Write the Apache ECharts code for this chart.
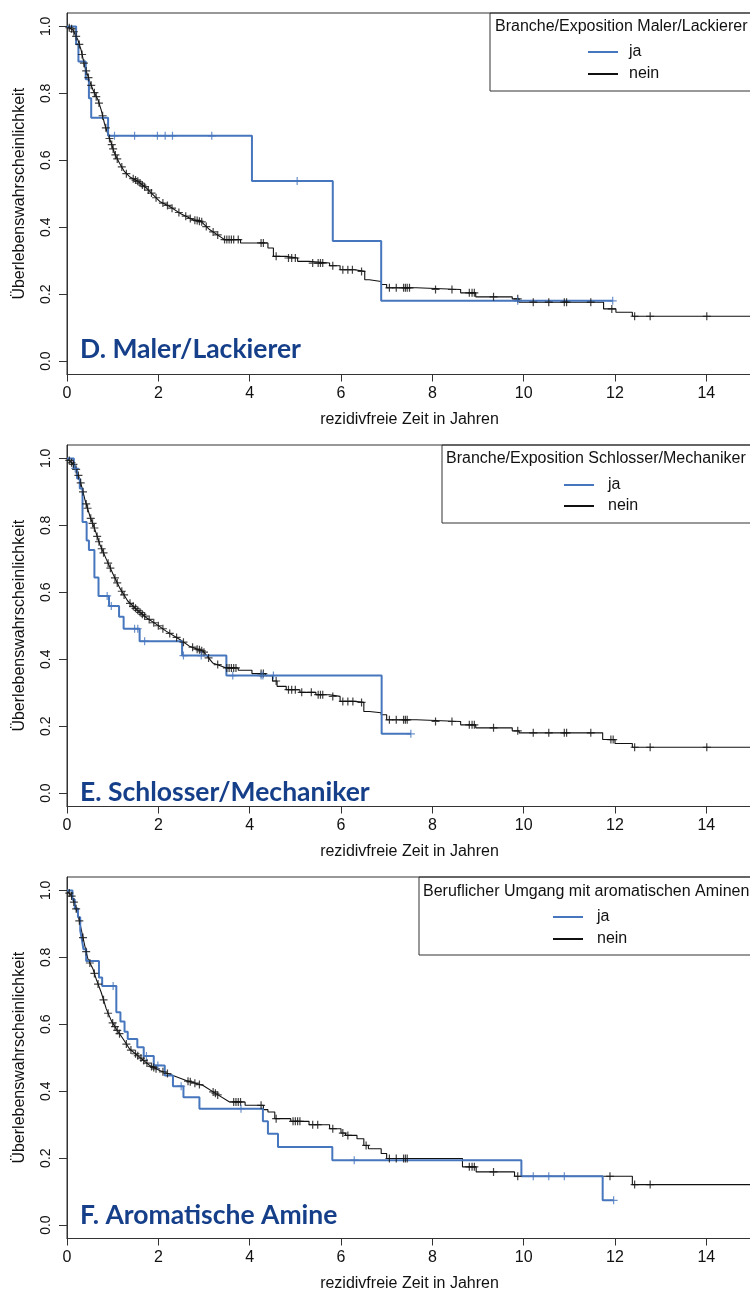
<!DOCTYPE html>
<html><head><meta charset="utf-8">
<script src="https://cdn.jsdelivr.net/npm/echarts@6/dist/echarts.min.js"></script>
<style>html,body{margin:0;padding:0;background:#fff}#c{width:750px;height:1290px}</style>
</head><body><div id="c"></div>
<script>
// ---------- text & ticks ----------
const xTicks = [0, 2, 4, 6, 8, 10, 12, 14];
const yTicks = [0, 0.2, 0.4, 0.6, 0.8, 1.0];
const groupNames = ['ja', 'nein'];
const panelTitles = ['D. Maler/Lackierer', 'E. Schlosser/Mechaniker', 'F. Aromatische Amine'];
const legendTitles = ['Branche/Exposition Maler/Lackierer', 'Branche/Exposition Schlosser/Mechaniker', 'Beruflicher Umgang mit aromatischen Aminen'];
const xName = 'rezidivfreie Zeit in Jahren';
const yName = 'Überlebenswahrscheinlichkeit';

// ---------- Panel D ----------
const jaStart = [[0, 1]];
const jaD_steps = [[0.2,0.947],[0.25,0.895],[0.41,0.842],[0.48,0.785],[0.53,0.727],[0.9,0.673],[4.05,0.538],[5.82,0.359],[6.88,0.18]];
const jaD_end = 11.95;
const jaD_cens = [[1.04,0.673],[1.48,0.673],[1.98,0.673],[2.15,0.673],[2.31,0.673],[3.17,0.673],[5.04,0.538],[9.87,0.18],[11.95,0.18]];
const neinD_smooth = [[0,1],[0.13,0.989],[0.24,0.959],[0.31,0.929],[0.39,0.879],[0.5,0.835],[0.57,0.81],[0.68,0.78],[0.75,0.75],[0.82,0.71],[0.9,0.676],[0.97,0.651],[1.04,0.621],[1.15,0.591],[1.26,0.566],[1.37,0.551],[1.55,0.537],[1.74,0.517],[1.92,0.492],[2.03,0.477],[2.25,0.462],[2.47,0.442],[2.76,0.422],[2.94,0.417],[3.12,0.393],[3.45,0.363]];
const neinD_steps = [[3.8,0.353],[4.4,0.338],[4.52,0.313],[4.8,0.308],[5.05,0.298],[5.3,0.293],[5.75,0.285],[5.98,0.273],[6.3,0.268],[6.52,0.243],[6.62,0.238],[6.88,0.229],[7.0,0.219],[7.65,0.214],[8.62,0.204],[8.95,0.192],[9.75,0.186],[9.9,0.176],[11.75,0.156],[12.02,0.146],[12.38,0.134]];
const neinD_end = 15;
const neinD_cens = [[0.05,0.996],[0.1,0.993],[0.15,0.984],[0.2,0.97],[0.27,0.946],[0.33,0.916],[0.37,0.89],[0.42,0.867],[0.47,0.847],[0.53,0.824],[0.6,0.802],[0.64,0.79],[0.7,0.771],[0.78,0.733],[0.85,0.697],[0.93,0.665],[0.98,0.647],[1.01,0.634],[1.06,0.616],[1.1,0.604],[1.2,0.58],[1.3,0.56],[1.45,0.545],[1.5,0.541],[1.55,0.537],[1.6,0.532],[1.65,0.526],[1.7,0.521],[1.78,0.511],[1.85,0.502],[1.95,0.488],[2.1,0.472],[2.2,0.465],[2.3,0.457],[2.45,0.444],[2.6,0.433],[2.7,0.426],[2.8,0.421],[2.85,0.42],[2.9,0.418],[2.95,0.416],[3.05,0.402],[3.2,0.386],[3.3,0.377],[3.45,0.363],[3.5,0.363],[3.55,0.363],[3.6,0.363],[3.65,0.363],[3.75,0.363],[4.25,0.353],[4.3,0.353],[4.58,0.313],[4.85,0.308],[4.92,0.308],[5.0,0.308],[5.38,0.293],[5.5,0.293],[5.55,0.293],[5.6,0.293],[5.82,0.285],[6.04,0.273],[6.15,0.273],[6.25,0.273],[6.45,0.268],[7.06,0.219],[7.21,0.219],[7.37,0.219],[7.41,0.219],[7.45,0.219],[7.5,0.219],[8.07,0.214],[8.43,0.214],[8.81,0.204],[8.87,0.204],[8.92,0.204],[9.34,0.192],[9.87,0.186],[10.21,0.176],[10.55,0.176],[10.89,0.176],[10.94,0.176],[11.47,0.176],[11.93,0.156],[12.43,0.134],[12.77,0.134],[14.01,0.134]];

// ---------- Panel E ----------
const jaE_steps = [[0.15,0.97],[0.22,0.94],[0.28,0.91],[0.34,0.81],[0.43,0.755],[0.48,0.726],[0.6,0.644],[0.69,0.589],[0.92,0.559],[1.14,0.527],[1.24,0.491],[1.59,0.454],[2.52,0.411],[3.49,0.351],[6.89,0.177]];
const jaE_end = 7.53;
const jaE_cens = [[0.18,0.97],[0.88,0.589],[0.97,0.559],[1.48,0.491],[1.55,0.491],[1.7,0.454],[2.55,0.411],[2.94,0.411],[3.63,0.351],[4.25,0.351],[4.29,0.351],[4.52,0.351],[7.53,0.177]];
const neinE_smooth = [[0,1],[0.17,0.978],[0.28,0.938],[0.39,0.878],[0.5,0.828],[0.61,0.788],[0.72,0.743],[0.86,0.699],[1.01,0.654],[1.15,0.614],[1.33,0.574],[1.52,0.549],[1.74,0.524],[1.96,0.504],[2.17,0.484],[2.47,0.459],[2.68,0.439],[2.98,0.424],[3.19,0.389],[3.49,0.374]];
const neinE_steps = [[3.75,0.367],[4.05,0.357],[4.35,0.351],[4.5,0.335],[4.6,0.319],[4.8,0.309],[5.1,0.301],[5.45,0.294],[5.75,0.289],[5.98,0.274],[6.3,0.271],[6.5,0.244],[6.62,0.24],[6.88,0.234],[7.0,0.219],[7.65,0.214],[8.62,0.204],[8.95,0.195],[9.75,0.186],[9.9,0.18],[11.73,0.16],[12.0,0.148],[12.38,0.137]];
const neinE_end = 15;
const neinE_cens = [[0.05,0.994],[0.1,0.987],[0.14,0.982],[0.2,0.967],[0.25,0.949],[0.3,0.927],[0.35,0.9],[0.42,0.864],[0.45,0.851],[0.52,0.821],[0.56,0.806],[0.6,0.792],[0.66,0.767],[0.7,0.751],[0.76,0.73],[0.8,0.718],[0.9,0.687],[0.95,0.672],[1.05,0.643],[1.1,0.628],[1.2,0.603],[1.25,0.592],[1.38,0.567],[1.45,0.558],[1.5,0.552],[1.55,0.546],[1.6,0.54],[1.65,0.534],[1.7,0.529],[1.8,0.519],[1.9,0.509],[2.0,0.5],[2.1,0.491],[2.25,0.477],[2.4,0.465],[2.55,0.451],[2.75,0.436],[2.85,0.43],[2.9,0.428],[2.95,0.425],[3.0,0.421],[3.1,0.404],[3.3,0.384],[3.5,0.374],[3.55,0.374],[3.6,0.374],[3.65,0.374],[3.7,0.374],[4.25,0.357],[4.3,0.357],[4.58,0.335],[4.85,0.309],[4.92,0.309],[5.0,0.309],[5.14,0.301],[5.35,0.301],[5.5,0.294],[5.55,0.294],[5.6,0.294],[5.82,0.289],[6.04,0.274],[6.15,0.274],[6.26,0.274],[6.45,0.271],[7.06,0.219],[7.21,0.219],[7.37,0.219],[7.41,0.219],[7.45,0.219],[8.07,0.214],[8.43,0.214],[8.81,0.204],[8.87,0.204],[8.92,0.204],[9.34,0.195],[9.87,0.186],[10.21,0.18],[10.55,0.18],[10.89,0.18],[10.94,0.18],[11.47,0.18],[11.91,0.16],[11.96,0.16],[12.43,0.137],[12.77,0.137],[14.01,0.137]];

// ---------- Panel F ----------
const jaF_steps = [[0.12,0.973],[0.17,0.946],[0.24,0.92],[0.29,0.88],[0.33,0.85],[0.36,0.824],[0.42,0.789],[0.7,0.74],[0.77,0.714],[1.08,0.636],[1.17,0.608],[1.26,0.578],[1.33,0.556],[1.54,0.531],[1.68,0.505],[1.9,0.477],[2.14,0.447],[2.32,0.415],[2.55,0.382],[2.9,0.348],[4.29,0.31],[4.4,0.273],[4.62,0.233],[5.81,0.194],[9.95,0.146],[11.73,0.074]];
const jaF_end = 11.97;
const jaF_cens = [[1.01,0.714],[1.74,0.505],[1.99,0.477],[2.5,0.415],[3.81,0.348],[6.29,0.194],[10.21,0.146],[10.55,0.146],[10.89,0.146],[11.97,0.074]];
const neinF_smooth = [[0,1],[0.1,0.983],[0.17,0.958],[0.24,0.928],[0.31,0.884],[0.39,0.834],[0.46,0.794],[0.57,0.765],[0.64,0.735],[0.75,0.695],[0.86,0.646],[0.97,0.611],[1.08,0.586],[1.23,0.556],[1.37,0.526],[1.59,0.502],[1.81,0.477],[2.03,0.462],[2.32,0.447],[2.61,0.432],[2.98,0.417],[3.27,0.392],[3.56,0.368]];
const neinF_steps = [[3.9,0.358],[4.3,0.345],[4.4,0.338],[4.55,0.318],[4.9,0.31],[5.3,0.3],[5.75,0.288],[6.0,0.275],[6.1,0.268],[6.35,0.258],[6.5,0.238],[6.6,0.228],[6.88,0.214],[7.0,0.199],[8.66,0.174],[8.96,0.159],[9.8,0.146],[12.38,0.121]];
const neinF_end = 15;
const neinF_cens = [[0.05,0.992],[0.1,0.983],[0.15,0.965],[0.2,0.945],[0.27,0.909],[0.35,0.859],[0.42,0.817],[0.5,0.783],[0.6,0.752],[0.68,0.72],[0.8,0.673],[0.9,0.633],[1.0,0.604],[1.05,0.593],[1.1,0.582],[1.15,0.572],[1.3,0.541],[1.4,0.523],[1.5,0.512],[1.55,0.506],[1.62,0.499],[1.68,0.492],[1.75,0.484],[1.85,0.474],[1.9,0.471],[1.95,0.467],[2.1,0.458],[2.2,0.453],[2.65,0.43],[2.7,0.428],[2.8,0.424],[2.9,0.42],[3.2,0.398],[3.25,0.394],[3.3,0.389],[3.65,0.368],[3.7,0.368],[3.75,0.368],[3.8,0.368],[4.25,0.358],[4.58,0.318],[4.95,0.31],[5.0,0.31],[5.05,0.31],[5.1,0.31],[5.38,0.3],[5.49,0.3],[5.82,0.288],[6.04,0.275],[6.15,0.268],[6.55,0.238],[7.06,0.199],[7.21,0.199],[7.37,0.199],[7.41,0.199],[7.45,0.199],[8.81,0.174],[8.87,0.174],[8.92,0.174],[9.34,0.159],[9.87,0.146],[11.89,0.146],[12.43,0.121],[12.77,0.121]];

// ---------- build ----------
function kmPath(start, steps, end) {
  const pts = start.map(p => [p[0], p[1]]);
  let s = pts[pts.length - 1][1];
  steps.forEach(([t, v]) => { pts.push([t, s]); pts.push([t, v]); s = v; });
  pts.push([end, s]);
  return pts;
}
const panels = [
  { ja: kmPath(jaStart, jaD_steps, jaD_end), nein: kmPath(neinD_smooth, neinD_steps, neinD_end), jaC: jaD_cens, neinC: neinD_cens },
  { ja: kmPath(jaStart, jaE_steps, jaE_end), nein: kmPath(neinE_smooth, neinE_steps, neinE_end), jaC: jaE_cens, neinC: neinE_cens },
  { ja: kmPath(jaStart, jaF_steps, jaF_end), nein: kmPath(neinF_smooth, neinF_steps, neinF_end), jaC: jaF_cens, neinC: neinF_cens }
];

const FONT = '"Liberation Sans", Arial, sans-serif';
const TFONT = 'Lato, "Open Sans", sans-serif';
const BLUE = '#4676BD';
const INK = '#111';
const FRAME = '#333';
const PLUS = 'path://M4,0L4,8M0,4L8,4';

const gridTops = [13, 445, 877];
const gridH = 361.5;
const legendBox = [[490, 13, 78], [442, 445, 78], [419, 877, 78]];
const legendTitlePos = [[495, 27], [446, 459], [423, 892]];
const legendPos = [[587, 44, 6, 6], [563, 477, 5, 9], [552, 909, 6, 9]];
const titleY = [349, 792, 1215];

const grid = [], xAxis = [], yAxis = [], series = [], legend = [], graphic = [];
panels.forEach((p, i) => {
  grid.push({ left: 67, top: gridTops[i], width: 685, height: gridH, show: true, borderColor: FRAME, borderWidth: 1, backgroundColor: 'transparent', outerBoundsMode: 'none' });
  xAxis.push({
    type: 'value', gridIndex: i, min: 0, max: 15, interval: 2, position: 'bottom',
    name: xName, nameLocation: 'middle', nameGap: 37,
    nameTextStyle: { fontFamily: FONT, fontSize: 16, color: INK },
    axisLine: { show: true, onZero: false, lineStyle: { color: FRAME, width: 1 } }, splitLine: { show: false },
    axisTick: { show: true, inside: false, length: 7, lineStyle: { color: FRAME, width: 1 } },
    axisLabel: { fontFamily: FONT, fontSize: 16, color: INK, margin: 11, showMaxLabel: false }
  });
  yAxis.push({
    type: 'value', gridIndex: i, min: -0.04, max: 1.04, position: 'left',
    name: yName, nameLocation: 'middle', nameGap: 39,
    nameTextStyle: { fontFamily: FONT, fontSize: 16, color: INK },
    axisLine: { show: true, onZero: false, lineStyle: { color: FRAME, width: 1 } }, splitLine: { show: false },
    axisTick: { show: true, inside: false, length: 8, lineStyle: { color: FRAME, width: 1 }, customValues: yTicks },
    axisLabel: { fontFamily: FONT, fontSize: 14, color: INK, rotate: 90, margin: 14, customValues: yTicks, formatter: v => v.toFixed(1) }
  });
  series.push({ type: 'line', name: groupNames[1], xAxisIndex: i, yAxisIndex: i, data: p.nein, symbol: 'none', showSymbol: false, lineStyle: { color: INK, width: 1.1 }, itemStyle: { color: INK }, z: 2, silent: true });
  series.push({ type: 'line', name: groupNames[0], xAxisIndex: i, yAxisIndex: i, data: p.ja, symbol: 'none', showSymbol: false, lineStyle: { color: BLUE, width: 2 }, itemStyle: { color: BLUE }, z: 3, silent: true });
  series.push({ type: 'scatter', name: 'nein zensiert ' + i, xAxisIndex: i, yAxisIndex: i, data: p.neinC, symbol: PLUS, symbolSize: 8, itemStyle: { color: 'transparent', borderColor: INK, borderWidth: 1.2 }, z: 4, silent: true });
  series.push({ type: 'scatter', name: 'ja zensiert ' + i, xAxisIndex: i, yAxisIndex: i, data: p.jaC, symbol: PLUS, symbolSize: 8, itemStyle: { color: 'transparent', borderColor: BLUE, borderWidth: 1.2 }, z: 5, silent: true });
  const lp = legendPos[i];
  legend.push({
    data: groupNames, orient: 'vertical', left: lp[0], top: lp[1], itemWidth: 30, itemHeight: 14, itemGap: lp[2], padding: 0,
    selectedMode: false, itemStyle: { opacity: 0 },
    textStyle: { fontFamily: FONT, fontSize: 16, color: INK, padding: [0, 0, 0, lp[3]] }
  });
  const lb = legendBox[i];
  graphic.push({ type: 'rect', shape: { x: lb[0], y: lb[1], width: 400, height: lb[2] }, style: { fill: 'none', stroke: FRAME, lineWidth: 1 }, z: 10 });
  graphic.push({ type: 'text', x: legendTitlePos[i][0], y: legendTitlePos[i][1], style: { text: legendTitles[i], font: '16px ' + FONT, fill: INK, verticalAlign: 'middle', align: 'left' }, z: 10 });
  graphic.push({ type: 'text', x: 80, y: titleY[i], style: { text: panelTitles[i], font: 'bold 26.5px ' + TFONT, fill: '#163F8A', verticalAlign: 'middle', align: 'left' }, z: 10 });
});

const chart = echarts.init(document.getElementById('c'), null, { renderer: 'canvas' });
chart.setOption({ animation: false, backgroundColor: '#fff', grid, xAxis, yAxis, series, legend, graphic });
</script></body></html>
